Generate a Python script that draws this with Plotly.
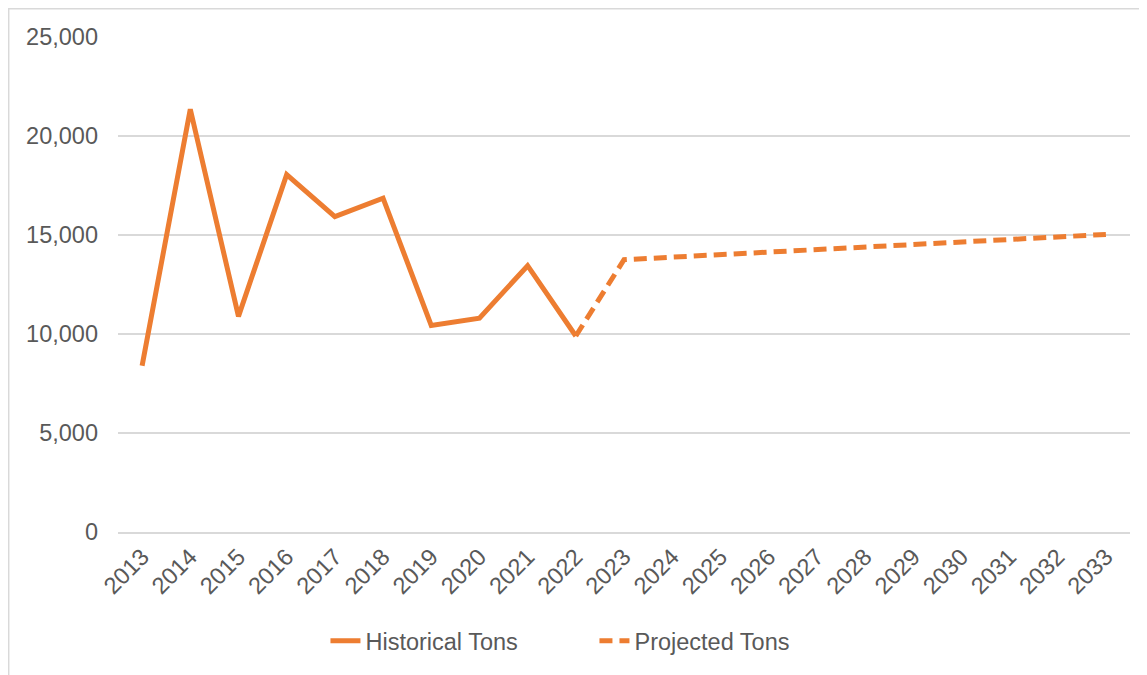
import plotly.graph_objects as go

years = [str(y) for y in range(2013, 2034)]

hist_years = years[:10]
hist_tons = [8400, 21350, 10890, 18050, 15930, 16860, 10430, 10800, 13450, 9900]

proj_years = years[9:]
proj_tons = [9900, 13750, 13880, 14010, 14140, 14260, 14390, 14520, 14650, 14780, 14900, 15030]

orange = '#ED7D31'
grey_text = '#595959'

fig = go.Figure()
fig.add_trace(go.Scatter(
    x=hist_years, y=hist_tons, mode='lines', name='Historical Tons',
    line=dict(color=orange, width=5)
))
fig.add_trace(go.Scatter(
    x=proj_years, y=proj_tons, mode='lines', name='Projected Tons',
    line=dict(color=orange, width=5, dash='13px,7px')
))

# the page body adds an 8px offset, so margins are trimmed to compensate
fig.update_layout(
    width=1147, height=675,
    margin=dict(l=110, r=25, t=29, b=151, autoexpand=False),
    paper_bgcolor='white', plot_bgcolor='white',
    font=dict(family='Liberation Sans, Arial, sans-serif', color=grey_text),
    showlegend=True,
    legend=dict(orientation='h', x=0.205, xanchor='left', y=-0.22, yanchor='middle',
                font=dict(size=23.5, color=grey_text), entrywidth=224, entrywidthmode='pixels'),
    # light border around the whole chart area
    shapes=[dict(type='rect', xref='paper', yref='paper',
                 x0=-0.108, x1=1.05, y0=-0.35, y1=1.057,
                 line=dict(color='#D9D9D9', width=1.5), fillcolor='rgba(0,0,0,0)')]
)

fig.update_xaxes(
    type='category', categoryorder='array', categoryarray=years,
    range=[-0.5, 20.5], tickangle=-45, tickfont=dict(size=23.5, color=grey_text),
    showgrid=False, showline=True, linecolor='#D9D9D9', linewidth=1.5, ticks='',
    automargin=False
)
fig.update_yaxes(
    range=[0, 25000], dtick=5000, tickformat=',', tickfont=dict(size=23.5, color=grey_text),
    showgrid=True, gridcolor='#D9D9D9', gridwidth=1.5, zeroline=False,
    showline=False, ticklabelstandoff=19, automargin=False
)

fig.write_html('out.html')
